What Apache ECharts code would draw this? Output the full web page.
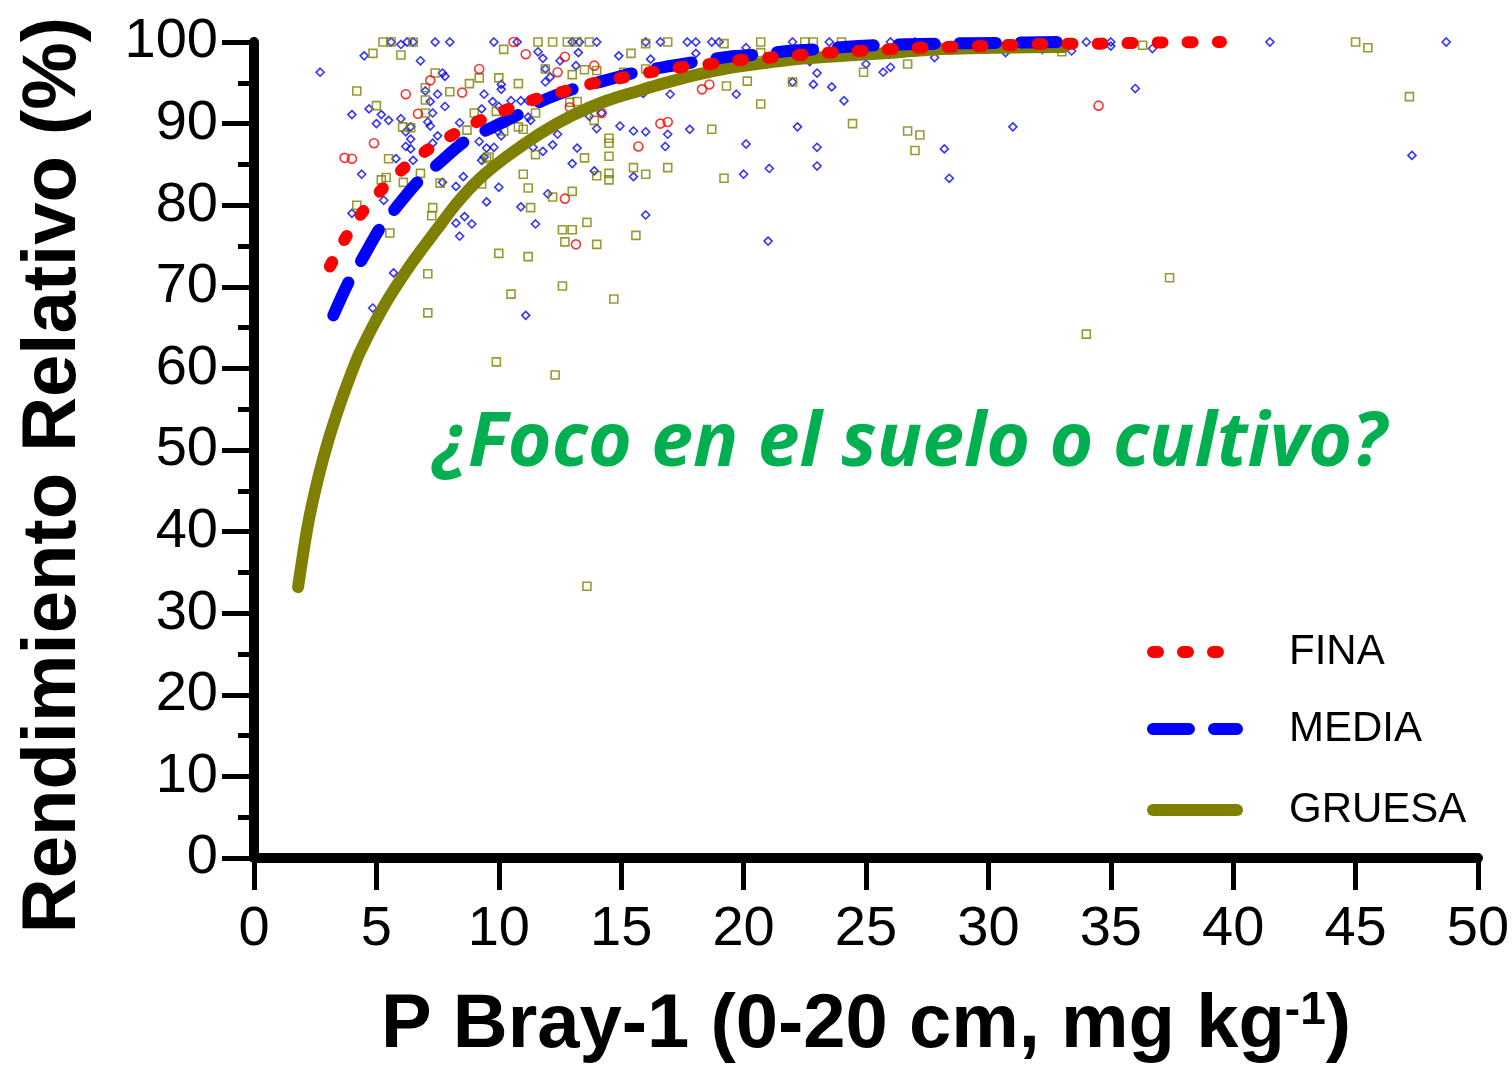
<!DOCTYPE html>
<html>
<head>
<meta charset="utf-8">
<script src="https://cdn.jsdelivr.net/npm/echarts@6/dist/echarts.min.js"></script>
<style>
html,body{margin:0;padding:0;background:#fff;}
#c{width:1512px;height:1067px;}
</style>
</head>
<body>
<div id="c"></div>
<script>
// ---- data ----
const xTicks = [0,5,10,15,20,25,30,35,40,45,50];
const yTicks = [0,10,20,30,40,50,60,70,80,90,100];

// MEDIA observations (blue diamonds)
const mediaPts = [
[5.6,100],[6.0,99.7],[6.25,100],[6.5,100],[7.4,100],[8.0,100],[4.5,98.3],[6.8,97.7],[2.7,96.3],[7.7,96.2],[7.8,95.8],[7.0,94.0],[7.5,93.6],[7.2,92.7],[7.8,92.1],[7.3,91.3],[4.0,91.1],[4.7,91.8],[5.2,91.1],[5.0,90.0],[5.5,90.4],[6.0,90.6],[7.1,90.2],[7.2,89.7],[6.4,89.6],[6.2,89.0],[6.4,88.1],[7.5,88.5],[7.3,87.6],[6.2,87.2],[6.4,86.9],[6.5,85.5],[5.8,85.7],[4.4,83.8],[7.7,82.8],[5.3,80.6],
[9.8,100],[10.75,100],[13.0,100],[13.3,100],[14.0,100],[11.6,98.8],[11.8,98.0],[13.25,98.7],[12.5,97.7],[13.15,97.1],[14.9,98.3],[10.1,94.8],[10.1,94.2],[9.4,93.6],[11.9,96.7],[11.9,95.1],[12.1,95.7],[9.75,92.7],[10.0,92.1],[10.5,92.8],[10.9,92.8],[11.2,92.8],[9.3,91.8],[10.7,90.8],[11.2,90.8],[11.3,90.4],[8.4,90.1],[9.95,89.1],[10.1,88.5],[12.4,88.7],[9.2,87.8],[9.8,87.1],[9.5,87.0],[12.2,87.4],[13.2,87.0],[9.4,85.9],[9.3,85.5],[11.8,86.6],[11.4,87.1],[13.0,85.1],[13.7,90.9],[14.2,91.3],[14.0,89.4],[14.95,89.7],[15.5,89.1],[15.5,83.5],[13.9,84.2],[8.55,83.5],[8.25,82.3],[10.0,82.2],[9.5,80.4],[10.9,79.8],[12.0,81.4],
[8.6,78.6],[8.25,77.8],[8.9,77.7],[8.4,76.2],[11.5,77.7],[16.0,78.8],[11.1,66.5],[4.0,79.0],[5.7,71.7],[4.85,67.4],
[16.0,100],[16.6,100],[17.7,100],[18.05,100],[18.7,100],[19.0,100],[22.0,100],[23.5,100],[20.1,99.3],[18.05,98.6],[16.2,97.9],[22.7,97.6],[25.0,97.3],[23.0,96.2],[22.0,95.1],[22.85,94.8],[23.6,94.5],[24.1,92.8],[17.0,93.6],[15.9,93.7],[19.7,93.6],[16.0,89.0],[16.9,88.7],[17.8,89.3],[16.8,87.2],[20.1,87.5],[22.2,89.6],[23.0,87.1],[23.0,84.8],[21.05,84.5],[20.0,83.8],[25.7,96.3],
[41.5,100],[48.7,100],[34.0,100],[35.0,100],[35.0,99.5],[36.7,99.2],[33.4,98.9],[32.2,99.1],[30.7,98.7],[29.0,99.1],[27.8,98.1],[26.0,100],[27.0,100],[26.0,96.9],[36.0,94.3],[31.0,89.6],[28.2,86.9],[28.4,83.3],[47.3,86.1],[21.0,75.6]
];

// FINA observations (red circles)
const finaPts = [
[7.2,95.3],[6.2,93.6],[6.7,91.2],[4.9,87.6],[3.7,85.8],[4.0,85.7],
[10.6,100],[11.1,98.5],[12.7,98.2],[13.9,97.1],[9.2,96.7],[12.4,96.3],[8.5,93.8],[12.7,80.8],[15.7,87.2],[14.2,91.3],[12.9,92.0],
[13.15,75.2],[18.3,94.2],[18.6,94.8],[16.6,90.0],[16.9,90.2],[23.7,98.2],[34.5,92.2]
];

// GRUESA observations (olive squares)
const gruesaPts = [
[5.27,100],[5.6,100],[6.5,100],[4.86,98.6],[6.0,98.4],[4.2,94.0],[7.4,96.2],[7.0,94.4],[7.0,92.9],[7.0,91.3],[5.0,92.2],[6.07,89.6],[6.4,89.5],[5.5,85.7],[5.2,83.1],[5.4,83.4],[6.1,82.8],[6.8,83.9],[7.6,82.7],[4.2,80.0],[7.3,79.7],
[11.6,100],[12.2,100],[12.8,100],[13.2,100],[13.7,100],[10.2,99.1],[15.4,98.6],[8.0,93.9],[8.8,94.9],[9.2,95.6],[10.0,95.6],[10.8,94.9],[11.9,96.7],[13.0,96.0],[13.5,96.6],[14.0,96.5],[15.1,96.3],[9.0,91.3],[9.9,91.5],[11.5,91.3],[12.9,92.6],[13.2,92.7],[13.9,90.4],[8.7,89.2],[10.2,89.1],[10.8,89.6],[11.0,89.3],[9.6,85.9],[9.5,85.7],[11.5,86.2],[14.5,88.2],[14.5,87.6],[14.5,86.0],[13.5,85.8],[15.5,84.6],[14.5,83.9],[14.5,83.1],[14.0,83.6],[11.0,83.8],[11.2,82.1],[9.3,82.6],[12.2,81.0],[13.0,81.7],[11.3,79.7],
[12.6,77.0],[13.0,77.0],[13.6,77.9],[12.7,75.5],[14.0,75.2],[15.6,76.3],[10.0,74.1],[11.2,73.7],[12.6,70.1],[10.5,69.1],[14.7,68.5],[9.9,60.8],[12.3,59.2],
[7.26,78.7],[5.55,76.6],[7.1,71.6],[7.1,66.8],
[16.0,99.8],[16.9,100],[19.2,99.8],[20.7,100],[22.5,100],[22.85,100],[24.0,100],[20.7,98.7],[16.0,96.7],[24.9,96.3],[19.3,94.6],[20.15,95.2],[22.0,95.1],[20.7,92.4],[24.45,90.0],[18.7,89.3],[16.0,83.8],[16.9,84.6],[19.2,83.3],
[45.0,100],[45.5,99.3],[47.2,93.3],[37.4,71.1],[26.7,97.3],[26.7,89.1],[27.2,88.6],[27.0,86.7],[33.0,98.8],[36.3,99.6],
[13.6,33.3],[34.0,64.2]
];

// fitted curves
const finaCurve = [[3.1,72.5],[3.7,75.8],[4.37,78.9],[5.15,81.7],[6.03,84.3],[7.0,86.6],[8.1,88.6],[9.1,90.2],[10.3,91.7],[11.4,92.9],[12.6,93.9],[13.8,94.9],[15.0,95.6],[16.2,96.3],[17.4,96.9],[18.65,97.3],[19.9,97.8],[21.1,98.1],[22.3,98.4],[23.5,98.7],[24.75,98.9],[27.2,99.3],[29.7,99.5],[32.1,99.75],[34.6,99.8],[37.1,99.95],[39.5,100]];
const mediaCurve = [[3.24,66.5],[3.9,70.8],[4.4,73.3],[5.15,77.2],[5.75,79.5],[6.7,82.9],[7.5,85.0],[8.6,87.8],[9.5,89.2],[10.8,91.1],[11.7,92.7],[13.0,94.2],[14.0,95.0],[15.5,96.2],[16.7,96.9],[18.1,97.6],[19.4,98.2],[20.7,98.5],[21.8,98.9],[23.0,99.1],[24.1,99.4],[25.4,99.6],[28.0,99.8],[30.5,99.9],[32.9,100]];
const gruesaCurve = [[1.8,33.2],[2.2,40.8],[2.6,46.3],[3.0,50.8],[3.4,54.6],[3.8,58.0],[4.33,62.0],[5.28,67.5],[6.37,72.6],[7.46,77.0],[8.3,80.3],[9.2,83.2],[10.3,85.9],[11.7,88.8],[13.0,91.0],[14.4,92.8],[15.8,94.1],[16.7,94.9],[18.1,96.0],[19.4,96.8],[20.8,97.4],[22.2,97.9],[23.5,98.2],[25.6,98.6],[28.0,99.1],[30.5,99.3],[33.1,99.4]];

const seriesNames = ['FINA','MEDIA','GRUESA'];
const colors = {FINA:'#FF0000', MEDIA:'#0000FF', GRUESA:'#808000'};
const dashes = {FINA:[5,25], MEDIA:[36,25], GRUESA:'solid'};
const titleText = '¿Foco en el suelo o cultivo?';

// ---- chart ----
const FONT = '"Liberation Sans", Arial, Helvetica, sans-serif';
const chart = echarts.init(document.getElementById('c'), null, {renderer:'canvas'});

function scatter(name, data, symbol, size, color){
  return {type:'scatter', name:name+' obs', data:data, symbol:symbol, symbolSize:size, z:2,
    itemStyle:{color:'rgba(0,0,0,0)', borderColor:color, borderWidth:1.6}, silent:true};
}
function curve(name, data, z){
  return {type:'line', name:name, data:data, smooth:0.3, symbol:'none', showSymbol:false, z:z,
    lineStyle:{color:colors[name], width:12, type:dashes[name], cap:'round', join:'round'}, itemStyle:{color:colors[name]}};
}
function legendFor(name, top, width, pad){
  return {data:[name], left:1147, top:top, padding:0, orient:'vertical', itemWidth:width, itemHeight:12,
    itemStyle:{opacity:0},
    lineStyle:{color:colors[name], width:12, type:dashes[name], cap:'round'},
    textStyle:{fontFamily:FONT, fontSize:42, color:'#000', padding:[0,0,0,pad]}, selectedMode:false};
}

chart.setOption({
  animation:false,
  backgroundColor:'#fff',
  grid:{left:254, right:34, top:42, bottom:209, outerBoundsMode:'none'},
  legend:[
    legendFor('FINA', 631, 65, 66),
    legendFor('MEDIA', 708, 84, 47),
    legendFor('GRUESA', 789, 84, 47)
  ],
  graphic:[{type:'text', x:910, y:445, z:10, silent:true,
    style:{text:titleText, fill:'#00B050', font:'italic bold 75px "Open Sans", Lato, sans-serif', textAlign:'center', textVerticalAlign:'middle'}}],
  xAxis:{type:'value', min:0, max:50, interval:5,
    axisLine:{onZero:false, lineStyle:{color:'#000', width:10}},
    axisTick:{length:32, lineStyle:{color:'#000', width:5}},
    axisLabel:{fontFamily:FONT, fontSize:56, color:'#000', margin:44, formatter:function(v){return xTicks.indexOf(v)>=0?String(v):'';}},
    splitLine:{show:false},
    name:'{b|P Bray-1 (0-20 cm, mg kg}{s|-1}{b|)}', nameLocation:'middle', nameGap:130,
    nameTextStyle:{rich:{b:{fontFamily:FONT, fontWeight:'bold', fontSize:76, color:'#000'}, s:{fontFamily:FONT, fontWeight:'bold', fontSize:46, color:'#000', verticalAlign:'top'}}}
  },
  yAxis:{type:'value', min:0, max:100, interval:10,
    axisLine:{onZero:false, lineStyle:{color:'#000', width:10}},
    axisTick:{length:32, lineStyle:{color:'#000', width:5}},
    minorTick:{show:true, splitNumber:2, length:16, lineStyle:{color:'#000', width:5}},
    axisLabel:{fontFamily:FONT, fontSize:56, color:'#000', margin:36, formatter:function(v){return yTicks.indexOf(v)>=0?String(v):'';}},
    splitLine:{show:false},
    name:'Rendimiento Relativo (%)', nameLocation:'middle', nameGap:162, nameRotate:90,
    nameTextStyle:{fontFamily:FONT, fontWeight:'bold', fontSize:76, color:'#000', padding:[0,50,0,0]}
  },
  series:[
    scatter('MEDIA', mediaPts, 'diamond', 8, colors.MEDIA),
    scatter('GRUESA', gruesaPts, 'rect', 8, colors.GRUESA),
    scatter('FINA', finaPts, 'circle', 9, colors.FINA),
    curve('GRUESA', gruesaCurve, 3),
    curve('MEDIA', mediaCurve, 4),
    curve('FINA', finaCurve, 5)
  ]
});
</script>
</body>
</html>
